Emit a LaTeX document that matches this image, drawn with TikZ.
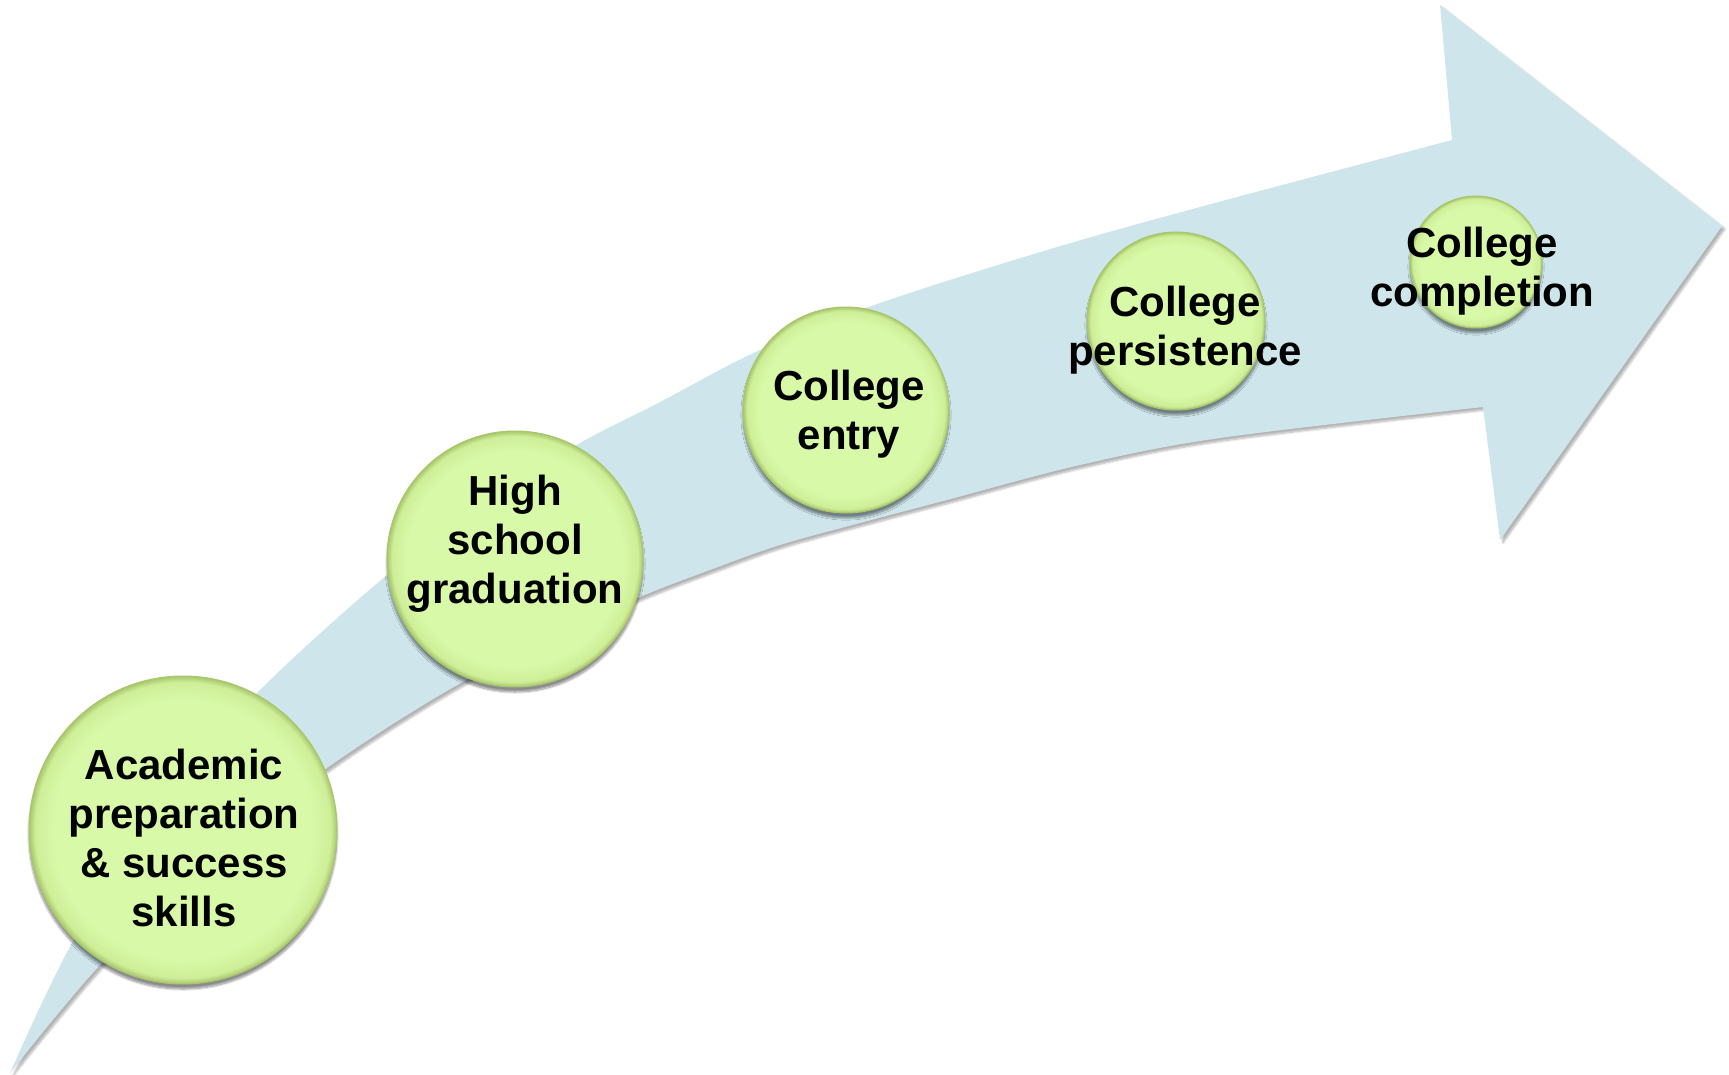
\documentclass[tikz,border=0pt]{standalone}
\usepackage{fontspec}
\setmainfont{Liberation Sans}
\usetikzlibrary{shadows.blur}
\definecolor{arrowblue}{RGB}{206,230,235}
\definecolor{gin}{RGB}{216,249,168}
\definecolor{gmid}{RGB}{206,238,152}
\definecolor{gout}{RGB}{168,198,108}
\pgfdeclareradialshading{greenball}{\pgfpoint{0bp}{0bp}}{color(0bp)=(gin); color(21bp)=(gin); color(24bp)=(gmid); color(25bp)=(gout); color(50bp)=(gout)}
\begin{document}
\begin{tikzpicture}[x=1pt,y=-1pt,
  ball/.style={circle, draw=gout, line width=1pt, shading=greenball, inner sep=0pt,
    blur shadow={shadow xshift=0pt, shadow yshift=-5pt, shadow opacity=45, shadow blur steps=10}},
  lbl/.style={font=\bfseries\fontsize{42}{49}\selectfont, align=center, inner sep=0pt, text=black}]
\useasboundingbox (0,0) rectangle (1729,1075);
% arrow
\fill[arrowblue, blur shadow={shadow xshift=3pt, shadow yshift=-3pt, shadow opacity=30, shadow blur steps=6}]
  plot[smooth, tension=0.55] coordinates {(10,1073) (72,943) (160,805) (257,693) (387,575) (480,508) (573,447) (660,402) (760,350) (880,303) (1047,250) (1200,207) (1452,140)}
  -- (1440,5) -- (1722,226) -- (1500,540) -- (1483,407)
  -- plot[smooth, tension=0.55] coordinates {(1483,407) (1220,438) (1080,465) (947,500) (860,523) (780,545) (710,570) (640,597) (540,642) (440,695) (327,768) (210,858) (100,965) (10,1073)}
  -- cycle;
% circles
\node[ball, minimum size=308pt] (c1) at (183,830) {};
\node[ball, minimum size=256pt] (c2) at (515,559) {};
\node[ball, minimum size=206pt] (c3) at (846,410) {};
\node[ball, minimum size=178pt] (c4) at (1176,321) {};
\node[ball, minimum size=132pt] (c5) at (1476,262) {};
% labels
\node[lbl] (t1) at (184,838) {Academic\\preparation\\\& success\\skills};
\node[lbl] (t2) at (515,544) {High\\school\\graduation};
\node[lbl] (t3) at (849,414) {College\\entry};
\node[lbl] (t4) at (1185,330) {College\\persistence};
\node[lbl] (t5) at (1482,271) {College\\completion};
\end{tikzpicture}
\end{document}
